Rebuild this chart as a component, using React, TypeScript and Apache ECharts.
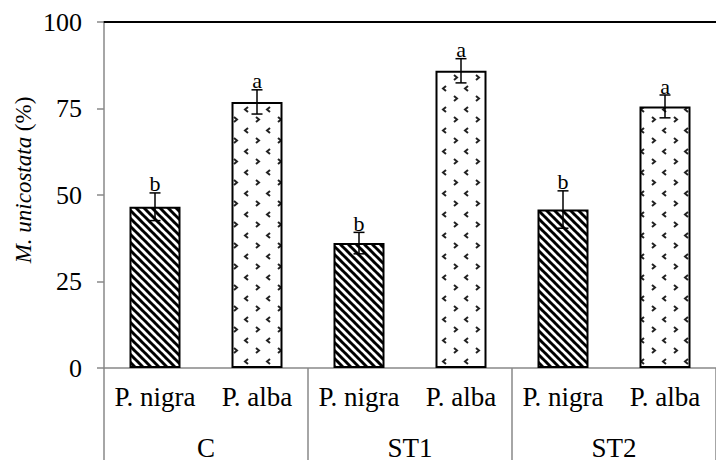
import React, { useEffect, useRef } from 'react';
import * as echarts from 'echarts';

const categories = ['P. nigra', 'P. alba', 'P. nigra', 'P. alba', 'P. nigra', 'P. alba'];
const groups = ['C', 'ST1', 'ST2'];
const means = [46.6, 76.9, 36.1, 85.9, 45.8, 75.6];
const se = [4.0, 3.5, 3.1, 3.5, 5.4, 3.3];
const letters = ['b', 'a', 'b', 'a', 'b', 'a'];
const yTitle = '{i|M. unicostata} (%)';

const SERIF = 'Liberation Serif';
const GRAY = '#888888';

function makeStripes(): HTMLCanvasElement {
  const c = document.createElement('canvas');
  c.width = 8;
  c.height = 8;
  const ctx = c.getContext('2d')!;
  ctx.fillStyle = '#fff';
  ctx.fillRect(0, 0, 8, 8);
  ctx.strokeStyle = '#000';
  ctx.lineWidth = 3;
  for (const x0 of [-8, 0, 8]) {
    ctx.beginPath();
    ctx.moveTo(x0 - 1, -1);
    ctx.lineTo(x0 + 9, 9);
    ctx.stroke();
  }
  return c;
}

function makeDots(): HTMLCanvasElement {
  const c = document.createElement('canvas');
  c.width = 22;
  c.height = 21;
  const ctx = c.getContext('2d')!;
  ctx.fillStyle = '#fff';
  ctx.fillRect(0, 0, 22, 21);
  ctx.strokeStyle = '#222';
  ctx.lineWidth = 2;
  ctx.beginPath();
  ctx.moveTo(6, 2);
  ctx.lineTo(3, 4.5);
  ctx.lineTo(6, 7);
  ctx.stroke();
  ctx.beginPath();
  ctx.moveTo(14, 12);
  ctx.lineTo(17, 14.5);
  ctx.lineTo(14, 17);
  ctx.stroke();
  return c;
}

export default function App() {
  const ref = useRef<HTMLDivElement>(null);
  useEffect(() => {
    const chart = echarts.init(ref.current!, null, { renderer: 'svg' });
    const stripes = { image: makeStripes(), repeat: 'repeat' };
    const dots = { image: makeDots(), repeat: 'repeat' };
    const option: any = {
      animation: false,
      backgroundColor: '#fff',
      textStyle: { fontFamily: SERIF },
      grid: { left: 104, top: 22, width: 624, height: 350 },
      xAxis: [
        {
          type: 'category',
          data: categories,
          position: 'bottom',
          axisLine: { show: true, lineStyle: { color: GRAY, width: 1.5 } },
          axisTick: { show: false },
          axisLabel: { interval: 0, margin: 15, fontSize: 27, fontFamily: SERIF, color: '#000' },
        },
        {
          type: 'category',
          data: groups,
          position: 'bottom',
          axisLine: { show: false },
          axisTick: { show: true, length: 92, interval: 0, lineStyle: { color: GRAY, width: 1.5 } },
          axisLabel: { interval: 0, margin: 66, fontSize: 27, fontFamily: SERIF, color: '#000' },
        },
        {
          type: 'category',
          data: categories,
          position: 'top',
          axisLine: { show: true, lineStyle: { color: '#000', width: 2 } },
          axisTick: { show: false },
          axisLabel: { show: false },
        },
      ],
      yAxis: {
        type: 'value',
        min: 0,
        max: 100,
        interval: 25,
        axisLine: { show: true, lineStyle: { color: GRAY, width: 1.5 } },
        axisTick: { show: true, length: 7, lineStyle: { color: GRAY, width: 1.5 } },
        splitLine: { show: false },
        axisLabel: { margin: 22, fontSize: 26, fontFamily: SERIF, color: '#000' },
      },
      graphic: [
        {
          type: 'text',
          x: 23,
          y: 180,
          rotation: Math.PI / 2,
          style: {
            text: yTitle,
            rich: { i: { fontStyle: 'italic', fontSize: 23, fontFamily: SERIF, fill: '#000' } },
            fontSize: 23,
            fontFamily: SERIF,
            fill: '#000',
            align: 'center',
            verticalAlign: 'middle',
          },
        },
      ],
      series: [
        {
          type: 'bar',
          xAxisIndex: 0,
          yAxisIndex: 0,
          barWidth: 51,
          data: means.map((v, i) => ({ value: v, itemStyle: { color: i % 2 === 0 ? stripes : dots } })),
          itemStyle: { borderColor: '#000', borderWidth: 2 },
        },
        {
          type: 'custom',
          xAxisIndex: 0,
          yAxisIndex: 0,
          z: 10,
          data: means.map((m, i) => [i, m, se[i]]),
          renderItem: (params: any, api: any) => {
            const i = api.value(0);
            const m = api.value(1);
            const s = api.value(2);
            const top = api.coord([i, m + s]);
            const bot = api.coord([i, m - s]);
            const x = top[0];
            const hw = 5.5;
            const st = { stroke: '#000', lineWidth: 1.5 };
            return {
              type: 'group',
              children: [
                { type: 'line', shape: { x1: x, y1: top[1], x2: x, y2: bot[1] }, style: st },
                { type: 'line', shape: { x1: x - hw, y1: top[1], x2: x + hw, y2: top[1] }, style: st },
                { type: 'line', shape: { x1: x - hw, y1: bot[1], x2: x + hw, y2: bot[1] }, style: st },
                {
                  type: 'text',
                  x: x,
                  y: top[1] + 2,
                  style: {
                    text: letters[params.dataIndex],
                    fontSize: 22,
                    fontFamily: SERIF,
                    fill: '#000',
                    align: 'center',
                    verticalAlign: 'bottom',
                  },
                },
              ],
            };
          },
        },
      ],
    };
    chart.setOption(option);
    return () => chart.dispose();
  }, []);
  return <div ref={ref} style={{ position: 'absolute', left: 0, top: 0, width: 716, height: 461 }} />;
}
